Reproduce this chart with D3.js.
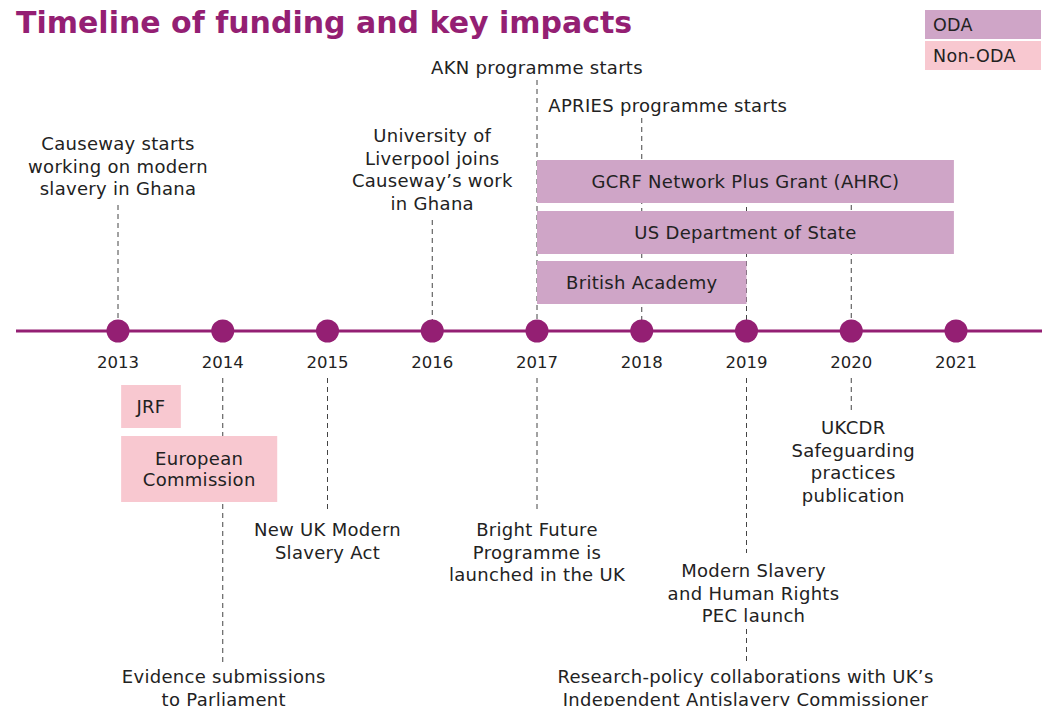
<!DOCTYPE html>
<html>
<head>
<meta charset="utf-8">
<script src="https://cdn.jsdelivr.net/npm/d3@7"></script>
<style>
  body { margin: 0; background: #fff; }
  text { font-family: "DejaVu Sans", sans-serif; fill: #222; }
  .lbl { letter-spacing: 0.3px; }
</style>
</head>
<body>
<div id="chart"></div>
<script>
// timeline years
const years = [2013, 2014, 2015, 2016, 2017, 2018, 2019, 2020, 2021];

// funding streams
const fundingNames = ['GCRF Network Plus Grant (AHRC)', 'US Department of State', 'British Academy', 'JRF', 'European\nCommission'];
const fundingStart = [2017, 2017, 2017, 2013.03, 2013.03];
const fundingEnd = [2020.98, 2020.98, 2019, 2013.6, 2014.52];
const fundingType = ['ODA', 'ODA', 'ODA', 'Non-ODA', 'Non-ODA'];

// key impacts
const eventYears = [2013, 2016, 2017, 2018, 2014, 2015, 2017, 2019, 2019, 2020];
const eventLabels = [
  'Causeway starts\nworking on modern\nslavery in Ghana',
  'University of\nLiverpool joins\nCauseway\u2019s work\nin Ghana',
  'AKN programme starts',
  'APRIES programme starts',
  'Evidence submissions\nto Parliament',
  'New UK Modern\nSlavery Act',
  'Bright Future\nProgramme is\nlaunched in the UK',
  'Modern Slavery\nand Human Rights\nPEC launch',
  'Research-policy collaborations with UK\u2019s\nIndependent Antislavery Commissioner',
  'UKCDR\nSafeguarding\npractices\npublication'
];

// extra guide lines with no label
const guideYears = [2019, 2020];

const legendKeys = ['ODA', 'Non-ODA'];

// ---- layout (pixels) ----
const width = 1042;
const height = 706;
const axisY = 331;
const lineH = 22.5;
const colors = { 'ODA': '#cfa5c7', 'Non-ODA': '#f8c8d0' };
const purple = '#941f73';

// bar rows: [top, height]
const barRows = [[160, 43], [211, 43], [261, 43], [385, 43], [436, 66]];
// event layout: first text line centre, dashed line from/to, text x offset
const eventLayout = [
  { ty: 144, y1: 205, y2: 320, dx: 0 },
  { ty: 136, y1: 220, y2: 320, dx: 0 },
  { ty: 68, y1: 80, y2: 320, dx: 0 },
  { ty: 106, y1: 118, y2: 320, dx: 26 },
  { ty: 677, y1: 378, y2: 665, dx: 1 },
  { ty: 530, y1: 378, y2: 513, dx: 0 },
  { ty: 530, y1: 378, y2: 513, dx: 0 },
  { ty: 571, y1: 378, y2: 553, dx: 7 },
  { ty: 677, y1: 629, y2: 663, dx: -1 },
  { ty: 428, y1: 378, y2: 410, dx: 2 }
];
const guideLayout = [{ y1: 180, y2: 320 }, { y1: 205, y2: 320 }];

const svg = d3.select('#chart').append('svg')
  .attr('width', width)
  .attr('height', height);

const x = d3.scaleLinear()
  .domain([2013, 2021])
  .range([118, 956]);

// title
svg.append('text')
  .attr('x', 16)
  .attr('y', 33)
  .attr('font-size', 30)
  .attr('font-weight', 'bold')
  .style('fill', purple)
  .text('Timeline of funding and key impacts');

// legend
const legend = svg.append('g').attr('class', 'legend');
legendKeys.forEach((k, i) => {
  legend.append('rect')
    .attr('x', 925).attr('y', 10 + i * 31)
    .attr('width', 116).attr('height', 29)
    .attr('fill', colors[k]);
  legend.append('text')
    .attr('class', 'lbl')
    .attr('x', 933).attr('y', 25 + i * 31)
    .attr('dy', '0.35em')
    .attr('font-size', 17.5)
    .text(k);
});

// dashed lines
const dashes = svg.append('g').attr('class', 'dashes');
eventYears.forEach((yr, i) => {
  const l = eventLayout[i];
  dashes.append('line')
    .attr('x1', x(yr)).attr('x2', x(yr))
    .attr('y1', l.y1).attr('y2', l.y2)
    .attr('stroke', '#444')
    .attr('stroke-width', 1)
    .attr('stroke-dasharray', '5,4');
});
guideYears.forEach((yr, i) => {
  dashes.append('line')
    .attr('x1', x(yr)).attr('x2', x(yr))
    .attr('y1', guideLayout[i].y1).attr('y2', guideLayout[i].y2)
    .attr('stroke', '#444')
    .attr('stroke-width', 1)
    .attr('stroke-dasharray', '5,4');
});

// event labels
const labels = svg.append('g').attr('class', 'labels');
eventLabels.forEach((lab, i) => {
  const l = eventLayout[i];
  const t = labels.append('text')
    .attr('class', 'lbl')
    .attr('text-anchor', 'middle')
    .attr('font-size', 18);
  lab.split('\n').forEach((s, j) => {
    t.append('tspan')
      .attr('x', x(eventYears[i]) + l.dx)
      .attr('y', l.ty + j * lineH)
      .attr('dy', '0.35em')
      .text(s);
  });
});

// funding bars
const bars = svg.append('g').attr('class', 'bars');
fundingNames.forEach((name, i) => {
  const r = barRows[i];
  const x0 = x(fundingStart[i]);
  const x1 = x(fundingEnd[i]);
  bars.append('rect')
    .attr('x', x0).attr('y', r[0])
    .attr('width', x1 - x0).attr('height', r[1])
    .attr('fill', colors[fundingType[i]]);
  const parts = name.split('\n');
  const t = bars.append('text')
    .attr('class', 'lbl')
    .attr('text-anchor', 'middle')
    .attr('font-size', 18);
  parts.forEach((s, j) => {
    t.append('tspan')
      .attr('x', (x0 + x1) / 2)
      .attr('y', r[0] + r[1] / 2 + (j - (parts.length - 1) / 2) * 21)
      .attr('dy', '0.35em')
      .text(s);
  });
});

// axis line, dots and years
svg.append('line')
  .attr('x1', 16).attr('x2', width)
  .attr('y1', axisY).attr('y2', axisY)
  .attr('stroke', purple)
  .attr('stroke-width', 3);

svg.append('g').selectAll('circle')
  .data(years)
  .enter()
  .append('circle')
  .attr('cx', d => x(d))
  .attr('cy', axisY)
  .attr('r', 11.5)
  .attr('fill', purple);

svg.append('g').selectAll('.year')
  .data(years)
  .enter()
  .append('text')
  .attr('class', 'year')
  .attr('x', d => x(d))
  .attr('y', 362)
  .attr('dy', '0.35em')
  .attr('text-anchor', 'middle')
  .attr('font-size', 16.5)
  .text(d => d);
</script>
</body>
</html>
